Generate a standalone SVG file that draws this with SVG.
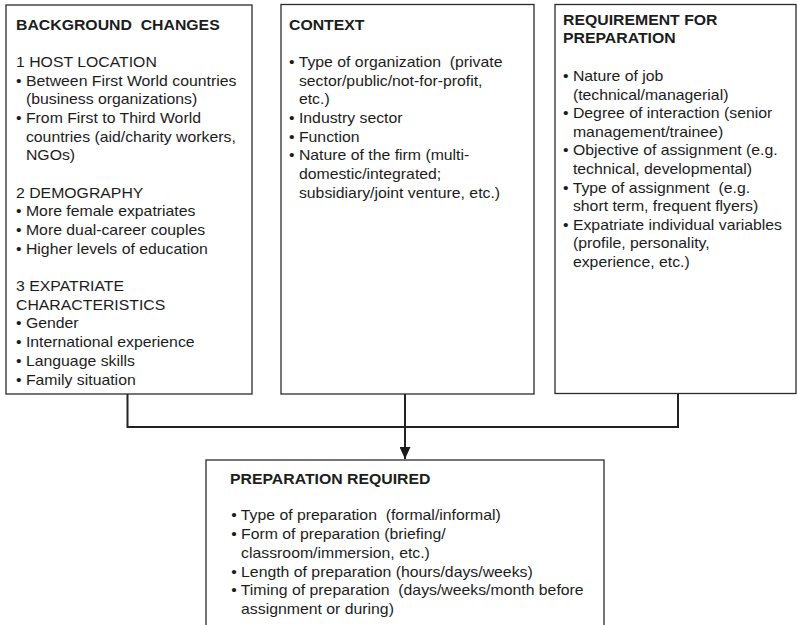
<svg xmlns="http://www.w3.org/2000/svg" width="797" height="625" viewBox="0 0 797 625">
<style>
.box{fill:#fff;stroke:#2b2b2b;stroke-width:1.3}
.h{font-family:"Liberation Sans",Arial,Helvetica,sans-serif;font-size:14px;font-weight:bold;fill:#1c1c1c;white-space:pre}
.t{font-family:"Liberation Sans",Arial,Helvetica,sans-serif;font-size:14px;fill:#1c1c1c;white-space:pre}
.con{fill:none;stroke:#222;stroke-width:2}
</style>
<defs>
<marker id="arr" viewBox="0 0 12 11" refX="12" refY="5.5" markerWidth="12" markerHeight="11" markerUnits="userSpaceOnUse" orient="auto">
<path d="M0,0 L12,5.5 L0,11 Z" fill="#1a1a1a"/>
</marker>
</defs>
<rect width="797" height="625" fill="#fff"/>
<g id="connectors">
<path class="con" d="M127.5,394 V427 H678 V394"/>
<path class="con" d="M405,394 V459" marker-end="url(#arr)"/>
</g>
<g id="background-changes">
<rect class="box" x="6" y="5" width="246" height="389"/>
<g transform="translate(16,0) scale(1.13,1)">
<text class="h" x="0" y="30" xml:space="preserve">BACKGROUND  CHANGES</text>
<text class="t" x="0" y="67">1 HOST LOCATION</text>
<text class="t" x="0" y="85.7">• Between First World countries</text>
<text class="t" x="8.8" y="104.4">(business organizations)</text>
<text class="t" x="0" y="123">• From First to Third World</text>
<text class="t" x="8.8" y="141.7">countries (aid/charity workers,</text>
<text class="t" x="8.8" y="160.4">NGOs)</text>
<text class="t" x="0" y="197.8">2 DEMOGRAPHY</text>
<text class="t" x="0" y="216.4">• More female expatriates</text>
<text class="t" x="0" y="235.1">• More dual-career couples</text>
<text class="t" x="0" y="253.8">• Higher levels of education</text>
<text class="t" x="0" y="291.2">3 EXPATRIATE</text>
<text class="t" x="0" y="309.8">CHARACTERISTICS</text>
<text class="t" x="0" y="328.5">• Gender</text>
<text class="t" x="0" y="347.2">• International experience</text>
<text class="t" x="0" y="365.9">• Language skills</text>
<text class="t" x="0" y="384.6">• Family situation</text>
</g>
</g>
<g id="context">
<rect class="box" x="281" y="4.5" width="253" height="389.5"/>
<g transform="translate(289,0) scale(1.13,1)">
<text class="h" x="0" y="30">CONTEXT</text>
<text class="t" x="0" y="67" xml:space="preserve">• Type of organization  (private</text>
<text class="t" x="8.8" y="85.7">sector/public/not-for-profit,</text>
<text class="t" x="8.8" y="104.4">etc.)</text>
<text class="t" x="0" y="123">• Industry sector</text>
<text class="t" x="0" y="141.7">• Function</text>
<text class="t" x="0" y="160.4">• Nature of the firm (multi-</text>
<text class="t" x="8.8" y="179.1">domestic/integrated;</text>
<text class="t" x="8.8" y="197.8">subsidiary/joint venture, etc.)</text>
</g>
</g>
<g id="requirement">
<rect class="box" x="555" y="4.5" width="241" height="389"/>
<g transform="translate(563,0) scale(1.13,1)">
<text class="h" x="0" y="25.5">REQUIREMENT FOR</text>
<text class="h" x="0" y="43">PREPARATION</text>
<text class="t" x="0" y="81">• Nature of job</text>
<text class="t" x="8.8" y="99.6">(technical/managerial)</text>
<text class="t" x="0" y="118.2">• Degree of interaction (senior</text>
<text class="t" x="8.8" y="136.8">management/trainee)</text>
<text class="t" x="0" y="155.4">• Objective of assignment (e.g.</text>
<text class="t" x="8.8" y="174">technical, developmental)</text>
<text class="t" x="0" y="192.6" xml:space="preserve">• Type of assignment  (e.g.</text>
<text class="t" x="8.8" y="211.2">short term, frequent flyers)</text>
<text class="t" x="0" y="229.8">• Expatriate individual variables</text>
<text class="t" x="8.8" y="248.4">(profile, personality,</text>
<text class="t" x="8.8" y="267">experience, etc.)</text>
</g>
</g>
<g id="preparation-required">
<rect class="box" x="206" y="460" width="398" height="180"/>
<g transform="translate(230,0) scale(1.13,1)">
<text class="h" x="0" y="484.5">PREPARATION REQUIRED</text>
<text class="t" x="1" y="520.5" xml:space="preserve">• Type of preparation  (formal/informal)</text>
<text class="t" x="1" y="539.2">• Form of preparation (briefing/</text>
<text class="t" x="9.8" y="557.9">classroom/immersion, etc.)</text>
<text class="t" x="1" y="576.6">• Length of preparation (hours/days/weeks)</text>
<text class="t" x="1" y="595.3" xml:space="preserve">• Timing of preparation  (days/weeks/month before</text>
<text class="t" x="9.8" y="614">assignment or during)</text>
</g>
</g>
</svg>
